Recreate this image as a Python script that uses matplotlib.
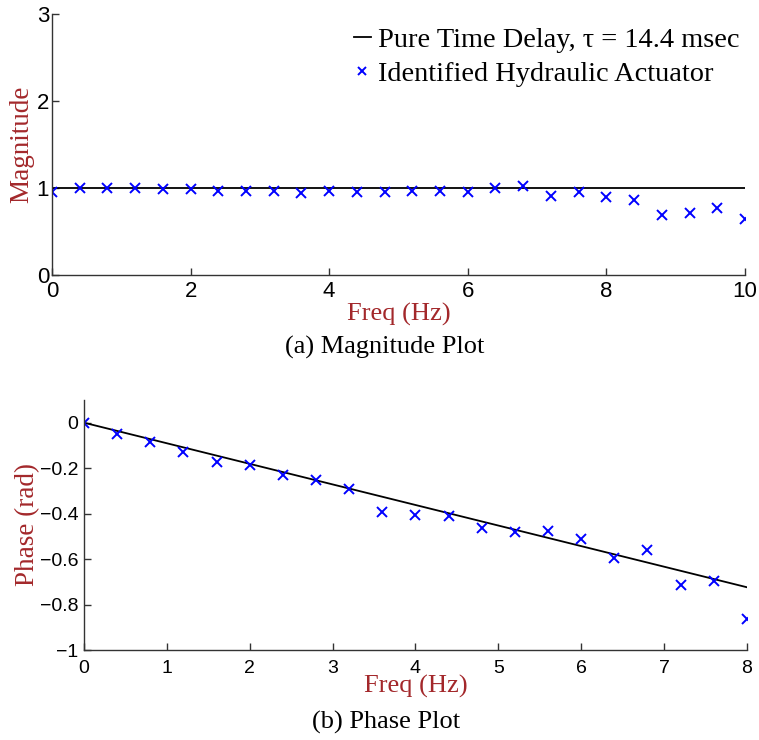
import numpy as np
import matplotlib.pyplot as plt
from matplotlib.ticker import FuncFormatter

# magnitude data (0..10 Hz, step 0.4)
mag_freq = [0, 0.4, 0.8, 1.2, 1.6, 2.0, 2.4, 2.8, 3.2, 3.6, 4.0, 4.4, 4.8,
            5.2, 5.6, 6.0, 6.4, 6.8, 7.2, 7.6, 8.0, 8.4, 8.8, 9.2, 9.6, 10.0]
mag_ident = [0.95, 1.00, 1.00, 1.00, 0.99, 0.99, 0.97, 0.97, 0.97, 0.94, 0.97, 0.95, 0.95,
             0.96, 0.96, 0.95, 1.00, 1.02, 0.91, 0.95, 0.90, 0.865, 0.69, 0.71, 0.77, 0.64]

# phase data (0..8 Hz, step 0.4)
ph_freq = [0, 0.4, 0.8, 1.2, 1.6, 2.0, 2.4, 2.8, 3.2, 3.6, 4.0,
           4.4, 4.8, 5.2, 5.6, 6.0, 6.4, 6.8, 7.2, 7.6, 8.0]
ph_ident = [0.0, -0.051, -0.085, -0.127, -0.171, -0.187, -0.231, -0.250, -0.290, -0.395, -0.407,
            -0.410, -0.463, -0.480, -0.476, -0.512, -0.597, -0.561, -0.714, -0.695, -0.865]

tau = 0.0144  # sec
line_freq = [0, 10]
mag_model = [1, 1]
ph_line_freq = [0, 8]
ph_model = [-2 * np.pi * f * tau for f in ph_line_freq]

label_col = '#a3282b'
serif = 'Liberation Serif'
sans = 'Liberation Sans'


def matlab_fmt(v, pos):
    s = ('%g' % round(v, 6))
    if s == '-0':
        s = '0'
    return s.replace('-', '\u2212')


def style_axes(ax, size, xpad, ypad):
    for s in ['top', 'right']:
        ax.spines[s].set_visible(False)
    for s in ['left', 'bottom']:
        ax.spines[s].set_color('#333333')
        ax.spines[s].set_linewidth(1.0)
    ax.tick_params(direction='in', length=5, width=1.0, color='#333333',
                   labelsize=size)
    ax.tick_params(axis='x', pad=xpad)
    ax.tick_params(axis='y', pad=ypad)
    for lab in ax.get_xticklabels() + ax.get_yticklabels():
        lab.set_fontfamily(sans)
    ax.xaxis.set_major_formatter(FuncFormatter(matlab_fmt))
    ax.yaxis.set_major_formatter(FuncFormatter(matlab_fmt))


fig = plt.figure(figsize=(7.59, 7.40), dpi=100)

# (a) magnitude
ax1 = fig.add_axes([0.0685, 0.6284, 0.913, 0.3526])
ax1.plot(line_freq, mag_model, color='black', lw=1.3,
         label='Pure Time Delay, \u03c4 = 14.4 msec')
ax1.plot(mag_freq, mag_ident, 'x', color='blue', ms=7, mew=1.4,
         label='Identified Hydraulic Actuator')
ax1.set_xlim(0, 10)
ax1.set_ylim(0, 3)
ax1.set_xticks([0, 2, 4, 6, 8, 10])
ax1.set_yticks([0, 1, 2, 3])
style_axes(ax1, 16, 4, 2)
ax1.set_xlabel('Freq (Hz)', fontfamily=serif, fontsize=19, color=label_col, labelpad=1)
ax1.set_ylabel('Magnitude', fontfamily=serif, fontsize=19.5, color=label_col, labelpad=2)
leg = ax1.legend(loc='upper right', bbox_to_anchor=(1.012, 1.003), frameon=False,
                 prop={'family': serif, 'size': 20.4}, handlelength=0.6,
                 handletextpad=0.25, labelspacing=0.28, markerscale=0.85,
                 borderaxespad=0.1)

# (b) phase
ax2 = fig.add_axes([0.1107, 0.1216, 0.8733, 0.3379])
ax2.plot(ph_line_freq, ph_model, color='black', lw=1.3)
ax2.plot(ph_freq, ph_ident, 'x', color='blue', ms=7, mew=1.4)
ax2.set_xlim(0, 8)
ax2.set_ylim(-1, 0.1)
ax2.set_xticks(range(0, 9))
ax2.set_yticks([-1, -0.8, -0.6, -0.4, -0.2, 0])
style_axes(ax2, 14, 7, 4)
ax2.set_xlabel('Freq (Hz)', fontfamily=serif, fontsize=19, color=label_col, labelpad=-1)
ax2.set_ylabel('Phase (rad)', fontfamily=serif, fontsize=19.5, color=label_col, labelpad=0)

fig.text(0.507, 0.530, '(a) Magnitude Plot', ha='center', va='center',
         fontfamily=serif, fontsize=19)
fig.text(0.509, 0.0243, '(b) Phase Plot', ha='center', va='center',
         fontfamily=serif, fontsize=19)

fig.savefig('out.png', dpi=100)
